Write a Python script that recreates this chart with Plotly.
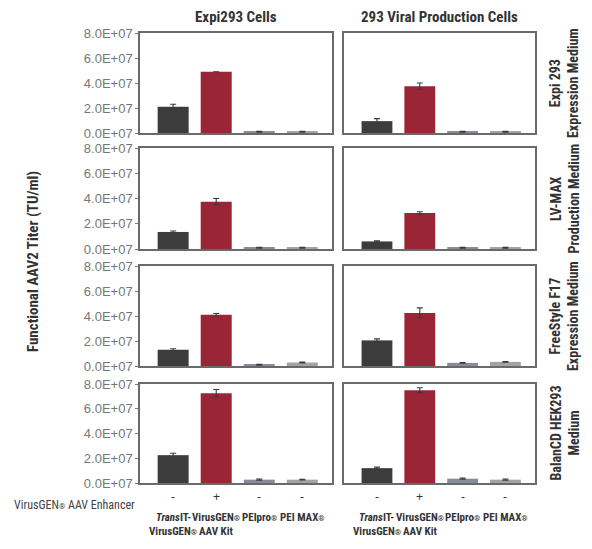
import plotly.graph_objects as go
from plotly.subplots import make_subplots

# category data
enhancer = ["-", "+", "-", "-"]
reagent_line1 = ["<i>Trans</i>IT-", "VirusGEN®", "PEIpro®", "PEI MAX®"]
reagent_line2 = ["VirusGEN®", "AAV Kit", "", ""]
cell_lines = ["Expi293 Cells", "293 Viral Production Cells"]
media = ["Expi 293<br>Expression Medium", "LV-MAX<br>Production Medium",
         "FreeStyle F17<br>Expression Medium", "BalanCD HEK293<br>Medium"]
tick_vals = [0, 2e7, 4e7, 6e7, 8e7]
tick_text = ["0.0E+07", "2.0E+07", "4.0E+07", "6.0E+07", "8.0E+07"]

# titer values (TU/ml), one list per medium
expi_titer = [
    [2.1e7, 4.9e7, 0.1e7, 0.1e7],
    [1.35e7, 3.75e7, 0.1e7, 0.1e7],
    [1.3e7, 4.1e7, 0.1e7, 0.28e7],
    [2.25e7, 7.25e7, 0.27e7, 0.27e7],
]
expi_err = [
    [0.2e7, 0.0, 0.04e7, 0.04e7],
    [0.08e7, 0.25e7, 0.03e7, 0.03e7],
    [0.08e7, 0.1e7, 0.03e7, 0.04e7],
    [0.15e7, 0.3e7, 0.05e7, 0.03e7],
]
vpc_titer = [
    [0.95e7, 3.75e7, 0.1e7, 0.1e7],
    [0.6e7, 2.85e7, 0.1e7, 0.1e7],
    [2.05e7, 4.25e7, 0.25e7, 0.33e7],
    [1.2e7, 7.5e7, 0.35e7, 0.27e7],
]
vpc_err = [
    [0.2e7, 0.25e7, 0.03e7, 0.03e7],
    [0.05e7, 0.1e7, 0.03e7, 0.03e7],
    [0.12e7, 0.4e7, 0.03e7, 0.03e7],
    [0.08e7, 0.2e7, 0.05e7, 0.05e7],
]

bar_colors = ["#3c3c3c", "#9a2536", "#868c9a", "#a3a3a3"]
cond = "Roboto Condensed, Open Sans Condensed, sans-serif"

# page puts the plot 8px in from the corner, so size and place it in page pixels
OFF = 8
W, H = 592 - OFF, 549 - OFF


def px(x):
    return (x - OFF) / W


def py(y):
    return 1 - (y - OFF) / H


col_px = [(140, 332), (344, 535)]
row_px = [(33, 133), (148, 249), (266, 366), (384, 483)]

fig = make_subplots(rows=4, cols=2)
xs = list(range(4))

for r in range(4):
    for c, (vals, errs) in enumerate([(expi_titer, expi_err), (vpc_titer, vpc_err)]):
        fig.add_trace(go.Bar(
            x=xs, y=vals[r], width=0.72,
            marker_color=bar_colors, marker_line_width=0,
            error_y=dict(type="data", array=errs[r], color="#3a3a3a", thickness=1.1, width=3),
            showlegend=False, hoverinfo="y",
        ), row=r + 1, col=c + 1)
        fig.update_xaxes(
            domain=[px(col_px[c][0]), px(col_px[c][1])],
            range=[-0.77, 3.69], showticklabels=False, ticks="", automargin=False,
            showline=True, linecolor="#6a6a6a", linewidth=1.5, mirror=True,
            showgrid=False, zeroline=False, row=r + 1, col=c + 1,
        )
        fig.update_yaxes(
            domain=[py(row_px[r][1]), py(row_px[r][0])],
            range=[0, 8e7], tickvals=tick_vals, ticktext=tick_text,
            showticklabels=(c == 0), ticks="outside" if c == 0 else "",
            ticklen=3, tickcolor="#777", automargin=False,
            tickfont=dict(family="Liberation Sans, Arial", size=13, color="#777"),
            showline=True, linecolor="#6a6a6a", linewidth=1.5, mirror=True,
            showgrid=False, zeroline=False, row=r + 1, col=c + 1,
        )


def label(text, x, y, size=14, angle=0, xref="paper", family=cond, color="#333"):
    return dict(text=text, x=x, y=y, xref=xref, yref="paper", showarrow=False,
                xanchor="center", yanchor="middle", textangle=angle,
                font=dict(family=family, size=size, color=color))


def small_reg(s):
    # shrink the registered mark like the original artwork
    return s.replace("®", '<span style="font-size:8px">®</span>')


annotations = []
# column titles
for c, name in enumerate(cell_lines):
    annotations.append(label("<b>" + name + "</b>", px((col_px[c][0] + col_px[c][1]) / 2), py(17), size=15))
# row titles
for r, name in enumerate(media):
    annotations.append(label("<b>" + name + "</b>", px(564), py((row_px[r][0] + row_px[r][1]) / 2),
                             size=14, angle=-90))
# y title
annotations.append(label("<b>Functional AAV2 Titer (TU/ml)</b>", px(33), py(262), size=15, angle=-90))
# enhancer row label
annotations.append(dict(
    text=small_reg("VirusGEN® AAV Enhancer"), x=px(137), y=py(505),
    xref="paper", yref="paper", showarrow=False, xanchor="right", yanchor="middle",
    font=dict(family=cond, size=12, color="#444"),
))
# category labels under bottom panels
for c, xa in enumerate(["x7", "x8"]):
    for i in range(4):
        annotations.append(label(enhancer[i], xs[i], py(497), size=12, xref=xa,
                                 family="Liberation Sans, Arial", color="#333"))
        annotations.append(label("<b>" + small_reg(reagent_line1[i]) + "</b>", xs[i], py(517),
                                 size=11, xref=xa))
        if reagent_line2[i]:
            annotations.append(label("<b>" + small_reg(reagent_line2[i]) + "</b>", xs[i], py(531),
                                     size=11, xref=xa))

fig.update_layout(
    width=W, height=H, margin=dict(l=0, r=0, t=0, b=0),
    plot_bgcolor="white", paper_bgcolor="white",
    annotations=annotations,
)

fig.write_html("out.html")
